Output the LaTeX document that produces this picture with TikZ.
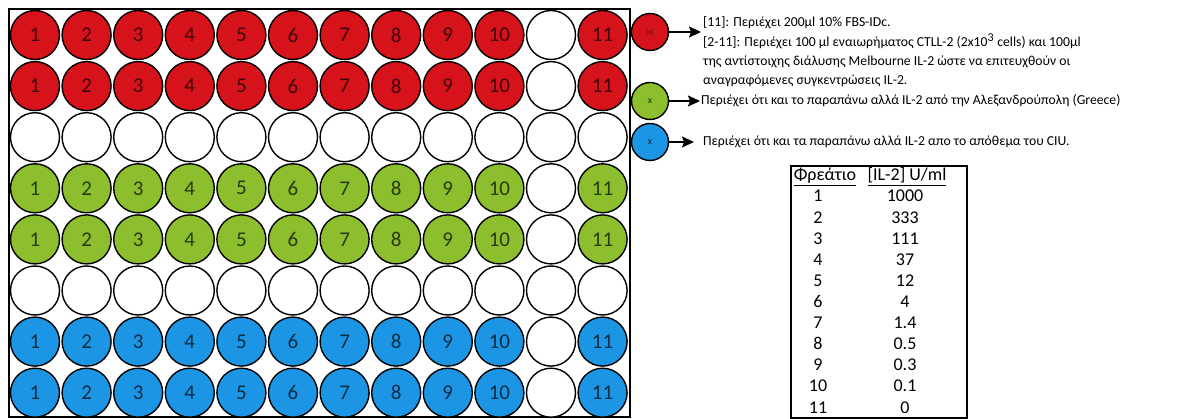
\documentclass[tikz,border=0pt]{standalone}
\usepackage{fontspec}
\setmainfont{Carlito}
\usetikzlibrary{arrows.meta}
\definecolor{wred}{RGB}{214,18,26}
\definecolor{wgreen}{RGB}{141,190,45}
\definecolor{wblue}{RGB}{28,150,228}
\begin{document}
\begin{tikzpicture}[x=1pt,y=-1pt,
  well/.style={circle, draw=black, line width=1.4pt, minimum size=49pt, inner sep=0pt, font=\fontsize{21}{21}\selectfont},
  legwell/.style={circle, draw=black, line width=1.4pt, minimum size=37pt, inner sep=0pt},
  arr/.style={line width=1.5pt, -{Stealth[length=12pt,width=11pt,inset=2pt]}},
  txt/.style={anchor=base west, inner sep=0pt, font=\fontsize{13.7}{16}\selectfont},
  cell/.style={anchor=base, inner sep=0pt, font=\fontsize{18}{20}\selectfont}]
\useasboundingbox (0,0) rectangle (1204,419);
% plate
\node[draw=black, line width=1.8pt, minimum width=621pt, minimum height=408pt, inner sep=0pt, anchor=north west] (plate) at (8,8) {};
\foreach \r/\col/\lab in {1/wred/1,2/wred/1,3/white/0,4/wgreen/1,5/wgreen/1,6/white/0,7/wblue/1,8/wblue/1}{
  \foreach \c in {1,...,12}{
    \pgfmathsetmacro\xx{35+(\c-1)*51.6}
    \pgfmathsetmacro\yy{35+(\r-1)*51.1}
    \ifnum\c=11 \def\fc{white}\def\tx{}\else
      \ifnum\lab=0 \def\fc{white}\def\tx{}\else
        \def\fc{\col}\ifnum\c=12 \def\tx{11}\else\def\tx{\c}\fi
      \fi
    \fi
    \node[well, fill=\fc, text=\col!30!black] (w-\r-\c) at (\xx,\yy) {\tx};
  }
}
% legend
\node[legwell, fill=wred, text=wred!45!black, font=\fontsize{7}{7}\selectfont] (lr) at (650,32) {[x]};
\node[legwell, fill=wgreen, text=wgreen!30!black, font=\fontsize{10}{10}\selectfont] (lg) at (650,101) {x};
\node[legwell, fill=wblue, text=wblue!30!black, font=\fontsize{10}{10}\selectfont] (lb) at (650,142) {x};
\coordinate (ar) at (701,32);
\coordinate (ag) at (700,101);
\coordinate (ab) at (694,142);
\draw[arr] (lr) -- (ar);
\draw[arr] (lg) -- (ag);
\draw[arr] (lb) -- (ab);
\node[txt] (t1) at (703,27) {[11]: Περιέχει 200μl 10\% FBS-IDc.};
\node[txt] (t2) at (703,47) {[2-11]: Περιέχει 100 μl εναιωρήματος CTLL-2 (2x10\textsuperscript{\fontsize{12}{12}\selectfont 3} cells) και 100μl};
\node[txt] (t3) at (703,66) {της αντίστοιχης διάλυσης Melbourne IL-2 ώστε να επιτευχθούν οι};
\node[txt] (t4) at (703,85) {αναγραφόμενες συγκεντρώσεις IL-2.};
\node[txt] (t5) at (701,105) {Περιέχει ότι και το παραπάνω αλλά IL-2 από την Αλεξανδρούπολη (Greece)};
\node[txt] (t6) at (703,146) {Περιέχει ότι και τα παραπάνω αλλά IL-2 απο το απόθεμα του CIU.};
% table
\node[draw=black, line width=2pt, minimum width=176pt, minimum height=252pt, inner sep=0pt, anchor=north west] (tbl) at (790,165) {};
\node[cell] (h1) at (825,181) {\underline{Φρεάτιο}};
\node[cell] (h2) at (907,181) {\underline{[IL-2] U/ml}};
\foreach \i/\v in {1/1000,2/333,3/111,4/37,5/12,6/4,7/1.4,8/0.5,9/0.3,10/0.1,11/0}{
  \pgfmathsetmacro\yy{202+(\i-1)*21.1}
  \node[cell] (n-\i) at (818,\yy) {\i};
  \node[cell] (v-\i) at (905,\yy) {\v};
}
\end{tikzpicture}
\end{document}
